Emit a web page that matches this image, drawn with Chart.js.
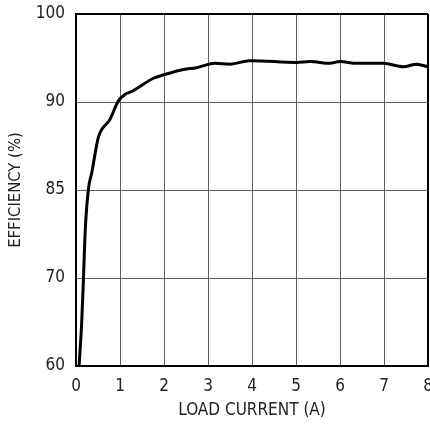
<!DOCTYPE html>
<html lang="en">
<head>
  <meta charset="UTF-8">
  <title>Efficiency vs Load Current</title>
  <script src="https://cdn.jsdelivr.net/npm/chart.js"></script>
  <style>
    html, body { margin: 0; padding: 0; background: #fff; }
    .chart-box { width: 430px; height: 424px; }
  </style>
</head>
<body>
  <div class="chart-box">
    <canvas id="effChart" width="430" height="424"></canvas>
  </div>

  <script>
    // load current (A) and efficiency (%)
    const loadCurrent = [0.07, 0.13, 0.17, 0.21, 0.28, 0.36, 0.51, 0.77, 0.96, 1.11, 1.27, 1.76, 2.0, 2.44, 2.74, 3.16, 3.5, 3.95, 4.0, 5.01, 5.32, 5.77, 6.0, 6.38, 6.98, 7.44, 7.74, 8.0];
    const efficiency  = [60, 65, 70, 78.1, 85, 86.0, 88.0, 89.0, 90.1, 90.85, 91.2, 92.7, 93.1, 93.7, 93.9, 94.4, 94.3, 94.7, 94.7, 94.5, 94.6, 94.4, 94.6, 94.4, 94.4, 94.0, 94.3, 94.0];

    // y axis is broken: these labels sit at equal spacing
    const yTickLabels = [60, 70, 85, 90, 100];
    const xTickLabels = [0, 1, 2, 3, 4, 5, 6, 7, 8];

    // map an efficiency value onto the evenly spaced tick slots
    function toSlot(v) {
      for (let i = 0; i < yTickLabels.length - 1; i++) {
        const lo = yTickLabels[i], hi = yTickLabels[i + 1];
        if (v <= hi) return i + (v - lo) / (hi - lo);
      }
      return yTickLabels.length - 1;
    }

    const points = loadCurrent.map((x, i) => ({ x: x, y: toSlot(efficiency[i]) }));

    const fontFamily = "'DejaVu Sans Condensed', 'Liberation Sans Narrow', 'Liberation Sans', sans-serif";

    const edgeColor = (ctx, last) => (ctx.index === last ? '#000' : '#5e5e5e');
    const edgeWidth = (ctx, last) => (ctx.index === last ? 2 : 1);

    new Chart(document.getElementById('effChart'), {
      type: 'line',
      data: {
        datasets: [{
          data: points,
          borderColor: '#000',
          borderWidth: 3,
          pointRadius: 0,
          tension: 0.4,
          cubicInterpolationMode: 'monotone',
          fill: false
        }]
      },
      options: {
        responsive: false,
        animation: false,
        layout: { padding: { top: 14, right: 2, left: 0, bottom: 0 } },
        plugins: {
          legend: { display: false },
          tooltip: { enabled: false }
        },
        scales: {
          x: {
            type: 'linear',
            min: 0,
            max: 8,
            afterBuildTicks: (scale) => { scale.ticks = xTickLabels.map(v => ({ value: v })); },
            afterFit: (scale) => { scale.height = 58; scale.paddingLeft = 0; scale.paddingRight = 0; },
            grid: {
              color: (ctx) => edgeColor(ctx, xTickLabels.length - 1),
              lineWidth: (ctx) => edgeWidth(ctx, xTickLabels.length - 1),
              drawTicks: false
            },
            border: { color: '#000', width: 2 },
            ticks: {
              padding: 10,
              color: '#222',
              font: { family: fontFamily, size: 17 },
              maxRotation: 0
            },
            title: {
              display: true,
              text: 'LOAD CURRENT (A)',
              color: '#222',
              font: { family: fontFamily, size: 17 },
              padding: { top: 0, bottom: 3 }
            }
          },
          y: {
            type: 'linear',
            min: 0,
            max: yTickLabels.length - 1,
            afterBuildTicks: (scale) => { scale.ticks = yTickLabels.map((v, i) => ({ value: i })); },
            afterFit: (scale) => { scale.width = 76; scale.paddingTop = 0; scale.paddingBottom = 0; },
            grid: {
              color: (ctx) => edgeColor(ctx, yTickLabels.length - 1),
              lineWidth: (ctx) => edgeWidth(ctx, yTickLabels.length - 1),
              drawTicks: false
            },
            border: { color: '#000', width: 2 },
            ticks: {
              padding: 11,
              color: '#222',
              font: { family: fontFamily, size: 17 },
              callback: (value) => yTickLabels[Math.round(value)]
            },
            title: {
              display: true,
              text: 'EFFICIENCY (%)',
              color: '#222',
              font: { family: fontFamily, size: 16.5 },
              padding: { top: 6, bottom: 0 }
            }
          }
        }
      }
    });
  </script>
</body>
</html>
